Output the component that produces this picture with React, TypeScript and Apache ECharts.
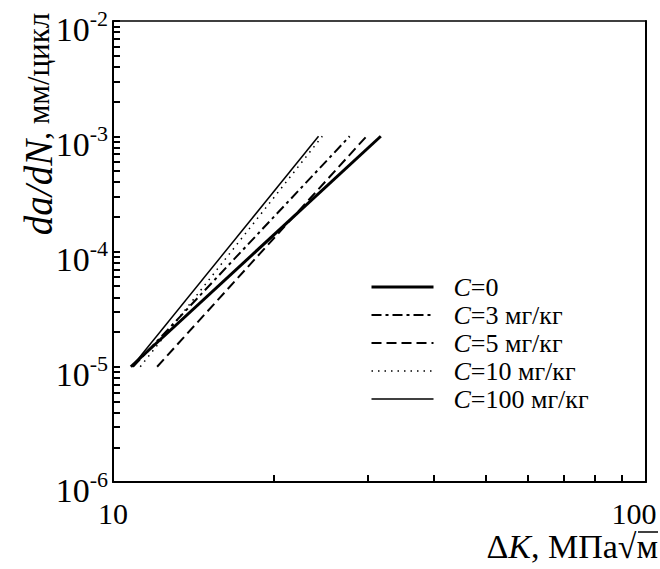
import React, { useEffect, useRef } from "react";
import * as echarts from "echarts";

// crack growth rate range shared by all curves (mm/cycle)
const rateRange = [1e-5, 1e-3];
// ΔK at start and end of each curve (MPa√m)
const dK_C0 = [10.8, 31.8];
const dK_C3 = [10.9, 27.8];
const dK_C5 = [12.1, 29.9];
const dK_C10 = [11.25, 24.7];
const dK_C100 = [10.85, 24.3];

const seriesNames = ["C=0", "C=3 мг/кг", "C=5 мг/кг", "C=10 мг/кг", "C=100 мг/кг"];
const xTickLabels = [10, 100];
const xMinorTicks = [20, 30, 40, 50, 60, 70, 80, 90];
const yDecades = [1e-6, 1e-5, 1e-4, 1e-3, 1e-2];
const minorMultipliers = [2, 3, 4, 5, 6, 7, 8, 9];

const FONT = "Liberation Serif";
const X_MIN = 10;
const X_MAX = 100;
const Y_MIN = 1e-6;
const Y_MAX = 1e-2;

function pairs(xs: number[], ys: number[]) {
  return xs.map((x, i) => [x, ys[i]]);
}

export default function App() {
  const ref = useRef<HTMLDivElement>(null);
  useEffect(() => {
    if (!ref.current) return;
    const chart = echarts.init(ref.current, undefined, { renderer: "svg" });
    const yTickValues: number[] = [];
    yDecades.forEach((d, i) => {
      yTickValues.push(d);
      if (i < yDecades.length - 1) minorMultipliers.forEach((m) => yTickValues.push(m * d));
    });
    const widths = [3, 2, 2, 1.5, 1.5];
    const types: any[] = ["solid", [10, 4, 3, 4], [10, 5], [1.5, 5], "solid"];
    const xs = [dK_C0, dK_C3, dK_C5, dK_C10, dK_C100];
    const lineSeries = xs.map((x, i) => ({
      name: seriesNames[i],
      type: "line",
      symbol: "none",
      showSymbol: false,
      xAxisIndex: 0,
      yAxisIndex: 0,
      data: pairs(x, rateRange),
      lineStyle: { color: "#000", width: widths[i], type: types[i] },
      itemStyle: { color: "#000" },
    }));
    const option: any = {
      animation: false,
      grid: { left: 113, right: 14, top: 21, bottom: 87, containLabel: false, outerBoundsMode: "none" },
      legend: {
        orient: "vertical",
        left: 365,
        top: 269,
        itemWidth: 62,
        itemHeight: 14,
        itemGap: 2,
        lineStyle: { width: "inherit" },
        itemStyle: { opacity: 0, borderWidth: 0 },
        data: seriesNames,
        formatter: (name: string) => `{i|C}{r|${name.slice(1)}}`,
        textStyle: {
          color: "#000",
          fontFamily: FONT,
          fontSize: 26,
          rich: {
            i: { fontFamily: FONT, fontStyle: "italic", fontSize: 26, color: "#000", lineHeight: 26, padding: [0, 0, 0, 15] },
            r: { fontFamily: FONT, fontSize: 26, color: "#000", lineHeight: 26 },
          },
        },
      },
      xAxis: [
        {
          type: "log",
          logBase: 10,
          min: X_MIN,
          max: X_MAX,
          position: "bottom",
          axisLine: { show: true, lineStyle: { color: "#000", width: 2 } },
          axisTick: { show: true, inside: true, length: 7, customValues: xMinorTicks, lineStyle: { color: "#000", width: 2 } },
          splitLine: { show: true, lineStyle: { opacity: 0 } },
          axisLabel: {
            customValues: xTickLabels,
            margin: 16,
            color: "#000",
            fontFamily: FONT,
            fontSize: 30,
            formatter: (v: number) => (v >= 100 ? `{b|${v}}` : `{a|${v}}`),
            rich: {
              a: { fontFamily: FONT, fontSize: 30, color: "#000" },
              b: { fontFamily: FONT, fontSize: 30, color: "#000", padding: [0, 24, 0, 0] },
            },
          },
        },
        {
          type: "log",
          logBase: 10,
          min: X_MIN,
          max: X_MAX,
          position: "top",
          axisLine: { show: true, lineStyle: { color: "#000", width: 1.5 } },
          axisTick: { show: false },
          axisLabel: { show: false },
          splitLine: { show: false },
        },
      ],
      yAxis: [
        {
          type: "log",
          logBase: 10,
          min: Y_MIN,
          max: Y_MAX,
          position: "left",
          axisLine: { show: true, lineStyle: { color: "#000", width: 2 } },
          axisTick: { show: true, inside: true, length: 7, customValues: yTickValues, lineStyle: { color: "#000", width: 2 } },
          splitLine: { show: true, lineStyle: { opacity: 0 } },
          axisLabel: {
            customValues: yDecades,
            margin: 5,
            color: "#000",
            padding: [16, 0, 0, 0],
            formatter: (v: number) => `{b|10}{s|${Math.round(Math.log10(v))}}`,
            rich: {
              b: { fontFamily: FONT, fontSize: 34, color: "#000", lineHeight: 44 },
              s: { fontFamily: FONT, fontSize: 22, color: "#000", lineHeight: 22, verticalAlign: "top" },
            },
          },
        },
        {
          type: "log",
          logBase: 10,
          min: Y_MIN,
          max: Y_MAX,
          position: "right",
          axisLine: { show: true, lineStyle: { color: "#000", width: 2 } },
          axisTick: { show: false },
          axisLabel: { show: false },
          splitLine: { show: false },
        },
      ],
      series: lineSeries,
      graphic: [
        {
          type: "text",
          x: 38,
          y: 124,
          rotation: Math.PI / 2,
          style: {
            text: "{i|da/dN}{r|, мм/цикл}",
            align: "center",
            verticalAlign: "middle",
            rich: {
              i: { fontFamily: FONT, fontStyle: "italic", fontSize: 39, fill: "#000" },
              r: { fontFamily: FONT, fontSize: 31, fill: "#000" },
            },
          },
        },
        {
          type: "text",
          x: 658,
          y: 546,
          style: {
            text: "{r|Δ}{i|K}{r|, МПа√м}",
            align: "right",
            verticalAlign: "middle",
            rich: {
              i: { fontFamily: FONT, fontStyle: "italic", fontSize: 34, fill: "#000" },
              r: { fontFamily: FONT, fontSize: 34, fill: "#000" },
            },
          },
        },
        {
          // overline of the square-root sign
          type: "line",
          shape: { x1: 638, y1: 532, x2: 658, y2: 532 },
          style: { stroke: "#000", lineWidth: 1.5 },
        },
      ],
    };
    chart.setOption(option);
    return () => chart.dispose();
  }, []);
  return (
    <div
      ref={ref}
      style={{ position: "fixed", left: 0, top: 0, width: 660, height: 569, background: "#fff" }}
    />
  );
}
